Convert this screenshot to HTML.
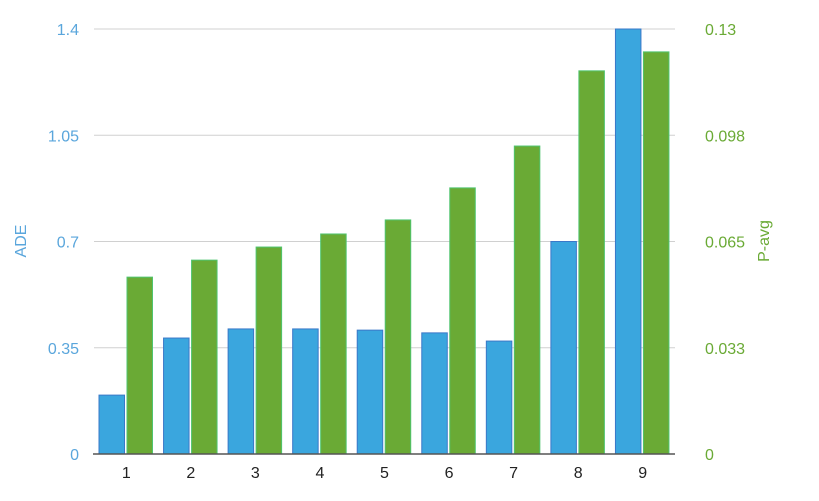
<!DOCTYPE html>
<html><head><meta charset="utf-8"><style>
body{margin:0;background:#fff;}
text{font-family:"Liberation Sans",sans-serif;}
</style></head><body>
<svg id="chart" width="819" height="496" xmlns="http://www.w3.org/2000/svg"></svg>
<script>
const categories=["1","2","3","4","5","6","7","8","9"];
const adeValues=[0.194,0.382,0.412,0.412,0.408,0.399,0.372,0.70,1.40];
const pavgValues=[0.0541,0.0593,0.0633,0.0673,0.0716,0.0814,0.0942,0.1172,0.123];
const leftTicks=[0,0.35,0.7,1.05,1.4];
const leftTickLabels=["0","0.35","0.7","1.05","1.4"];
const rightTicks=[0,0.0325,0.065,0.0975,0.13];
const rightTickLabels=["0","0.033","0.065","0.098","0.13"];
const svg=document.getElementById('chart');
const NS="http://www.w3.org/2000/svg";
const X0=94,X1=675,Y0=454,Y1=29;
const yL=v=>Y0-(v/1.4)*(Y0-Y1);
const yR=v=>Y0-(v/0.13)*(Y0-Y1);
const band=(X1-X0)/categories.length;
function mk(tag,attrs,txt){const e=document.createElementNS(NS,tag);for(const k in attrs)e.setAttribute(k,attrs[k]);if(txt!==undefined)e.textContent=txt;svg.appendChild(e);return e;}
leftTicks.forEach((t,i)=>{
  const y=yL(t);
  if(i>0){const g=mk('line',{x1:X0,x2:X1,y1:y,y2:y,stroke:'#d0d0d0','stroke-width':1});
  
  }
  const l=mk('text',{x:79,y:y+6,'text-anchor':'end','font-size':16,fill:'#5aa6dc'},leftTickLabels[i]);
  
  
});
rightTicks.forEach((t,i)=>{
  const r=mk('text',{x:705,y:yR(t)+6,'text-anchor':'start','font-size':16,fill:'#6aaa35'},rightTickLabels[i]);
  
  
});
categories.forEach((c,i)=>{
  const bx=X0+band*i+5;
  const w=25.5;
  const b=mk('rect',{x:bx,y:yL(adeValues[i]),width:w,height:Y0-yL(adeValues[i]),fill:'#3aa6de',stroke:'#3a78c8','stroke-width':1});
  
  
  const g=mk('rect',{x:bx+28,y:yR(pavgValues[i]),width:w,height:Y0-yR(pavgValues[i]),fill:'#6aaa35',stroke:'#4fc46e','stroke-width':1});
  
  
  const t=mk('text',{x:X0+band*(i+0.5),y:478,'text-anchor':'middle','font-size':16,fill:'#222'},c);
  
  
});
const ax=mk('line',{x1:X0-1,x2:X1,y1:Y0,y2:Y0,stroke:'#555','stroke-width':1.5});


const lt=mk('text',{x:0,y:0,'text-anchor':'middle','font-size':16,fill:'#5aa6dc',transform:'translate(26,241) rotate(-90)'},'ADE');


const rt=mk('text',{x:0,y:0,'text-anchor':'middle','font-size':16,fill:'#6aaa35',transform:'translate(769,241) rotate(-90)'},'P-avg');


</script>
</body></html>
